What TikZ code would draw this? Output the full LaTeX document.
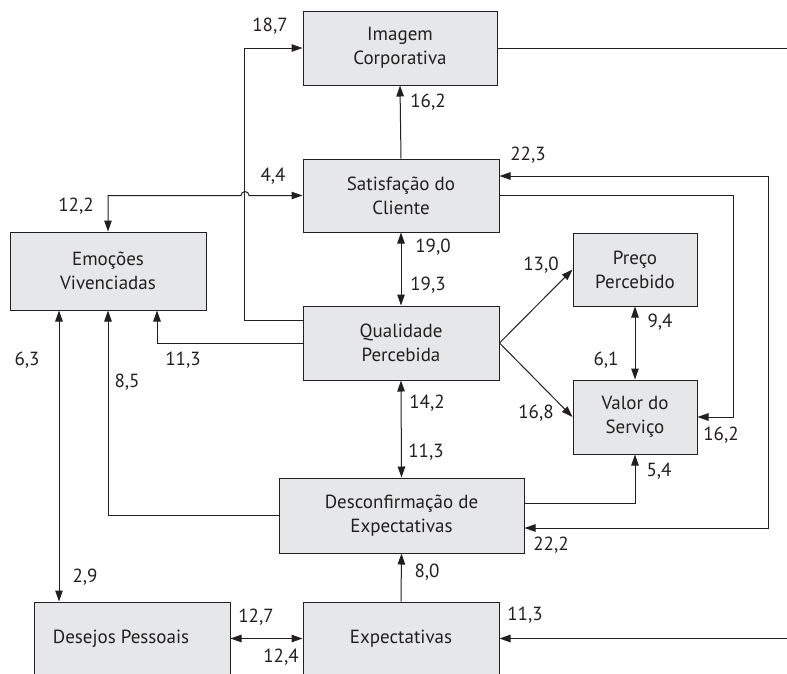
\documentclass[tikz,border=0pt]{standalone}
\usepackage{fontspec}
\setmainfont{PT Sans}
\usetikzlibrary{arrows.meta}
\definecolor{boxfill}{HTML}{E6E7E8}
\definecolor{ink}{HTML}{231F20}
\begin{document}
\begin{tikzpicture}[x=1pt,y=-1pt,
  box/.style={draw=ink, fill=boxfill, line width=1pt, align=center, text=ink, inner sep=2pt,
              font=\fontsize{19}{24}\selectfont},
  lbl/.style={text=ink, inner sep=0pt, font=\fontsize{19}{24}\selectfont},
  conn/.style={draw=ink, line width=1pt},
  arr/.style={conn, -{Triangle[length=11pt,width=7.5pt]}},
  arrr/.style={conn, {Triangle[length=11pt,width=7.5pt]}-{Triangle[length=11pt,width=7.5pt]}}]
\clip (0,0) rectangle (787,673);
\fill[white] (0,0) rectangle (787,673);
% boxes
\node[box, minimum width=194pt, minimum height=74pt] (img) at (400,48) {Imagem\\Corporativa};
\node[box, minimum width=196pt, minimum height=73pt] (sat) at (401,195.5) {Satisfação do\\Cliente};
\node[box, minimum width=196pt, minimum height=74pt] (qual) at (401,343) {Qualidade\\Percebida};
\node[box, minimum width=196pt, minimum height=78pt] (emo) at (108,271) {Emoções\\Vivenciadas};
\node[box, minimum width=124pt, minimum height=73pt] (preco) at (635,269.5) {Preço\\Percebido};
\node[box, minimum width=124pt, minimum height=74pt] (valor) at (635,417) {Valor do\\Serviço};
\node[box, minimum width=245pt, minimum height=75pt] (desc) at (401.5,515.5) {Desconfirmação de\\Expectativas};
\node[box, minimum width=196pt, minimum height=73pt] (desejos) at (132,638.5) {Desejos Pessoais\hspace*{22pt}};
\node[box, minimum width=196pt, minimum height=73pt] (expect) at (401,638.5) {Expectativas};
% free ends
\coordinate (imgout) at (787,48);
\coordinate (expin) at (787,638.5);
% connectors
\draw[arr] ([yshift=23pt]qual.west) -- ++(-58,0) |- (img.west);
\draw[conn] (img.east) -- (imgout);
\draw[arr] (sat.north) -- (img.south);
\draw[arrr] (emo.north) |- (241,195.5) arc[start angle=180,end angle=0,radius=4pt] -- (sat.west);
\draw[arrr] ([yshift=19.5pt]sat.east) -- ++(269,0) |- ([yshift=-12.5pt]desc.east);
\draw[arr] (sat.east) -- ++(234,0) |- (valor.east);
\draw[arrr] (sat.south) -- (qual.north);
\draw[arr] (qual.west) -| ([xshift=49pt]emo.south);
\draw[arr] (qual.east) -- (preco.west);
\draw[arr] (qual.east) -- (valor.west);
\draw[arrr] (preco.south) -- (valor.north);
\draw[arrr] (qual.south) -- (desc.north);
\draw[arr] ([yshift=12.5pt]desc.east) -| (valor.south);
\draw[arr] (desc.west) -| (emo.south);
\draw[arrr] ([xshift=-49pt]emo.south) -- ([xshift=-49pt]emo.south |- desejos.north);
\draw[arrr] (desejos.east) -- (expect.west);
\draw[arr] (expect.north) -- (desc.south);
\draw[arr] (expin) -- (expect.east);
% labels
\node[lbl] (l187) at (270,26) {18,7};
\node[lbl] (l162a) at (428,102) {16,2};
\node[lbl] (l44) at (273,176) {4,4};
\node[lbl] (l122) at (76,206) {12,2};
\node[lbl] (l223) at (528,155) {22,3};
\node[lbl] (l190) at (433,247) {19,0};
\node[lbl] (l193) at (428,285) {19,3};
\node[lbl] (l130) at (541,265) {13,0};
\node[lbl] (l94) at (660,322) {9,4};
\node[lbl] (l61) at (606,360) {6,1};
\node[lbl] (l168) at (536,413) {16,8};
\node[lbl] (l162b) at (721,435) {16,2};
\node[lbl] (l142) at (427,403) {14,2};
\node[lbl] (l113a) at (426,452) {11,3};
\node[lbl] (l63) at (27,360) {6,3};
\node[lbl] (l85) at (127,382) {8,5};
\node[lbl] (l113b) at (183,360) {11,3};
\node[lbl] (l54) at (659,471) {5,4};
\node[lbl] (l222) at (551,545) {22,2};
\node[lbl] (l80) at (427,572) {8,0};
\node[lbl] (l113c) at (525,615) {11,3};
\node[lbl] (l29) at (85,577) {2,9};
\node[lbl] (l127) at (256,617) {12,7};
\node[lbl] (l124) at (281,657) {12,4};
\end{tikzpicture}
\end{document}
